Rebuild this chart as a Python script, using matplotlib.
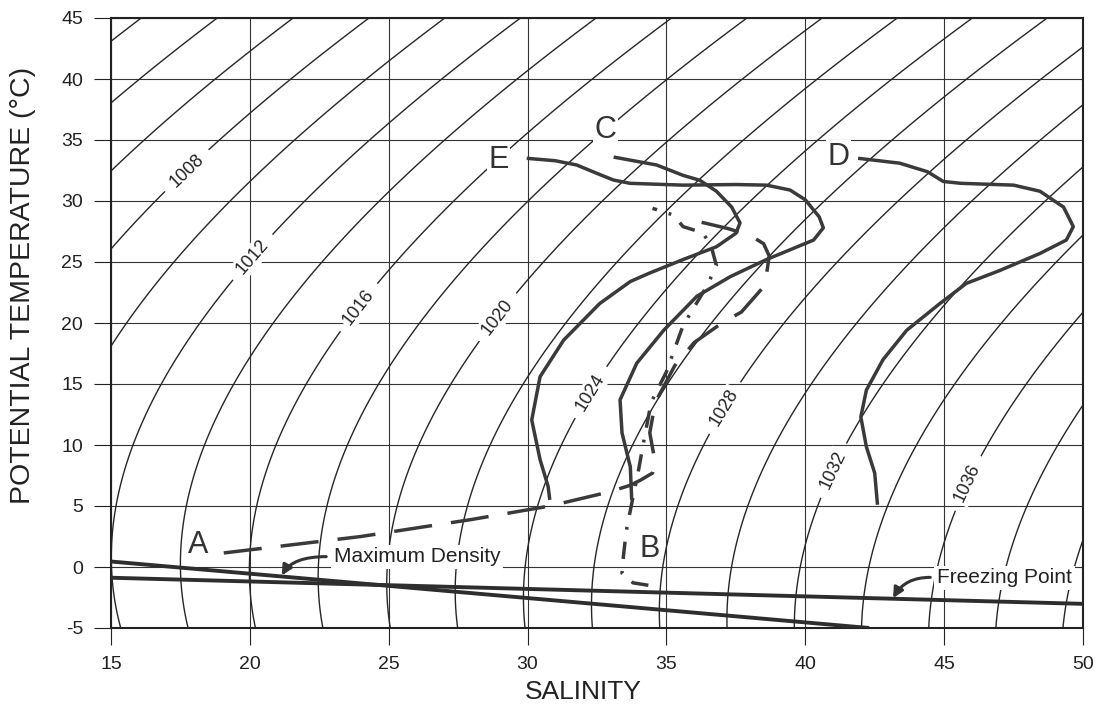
import numpy as np
import matplotlib
matplotlib.use("Agg")
import matplotlib.pyplot as plt

plt.rcParams['font.family'] = ['Liberation Sans', 'DejaVu Sans']
plt.rcParams['axes.unicode_minus'] = False

# ---------------- data ----------------
density_levels = list(range(1000, 1042, 2))
label_levels = [1008, 1012, 1016, 1020, 1024, 1028, 1032, 1036]
label_pos = [(17.6, 32.8), (20.1, 25.4), (23.8, 21.5), (29.2, 20.0),
             (32.5, 14.0), (37.2, 12.9), (41.2, 7.7), (46.0, 6.7)]

curve_E_S = [29.97, 31.0, 31.77, 32.49, 33.09, 33.69, 35.6, 37.5, 38.6, 39.45, 40.0,
             40.5, 40.65, 40.3, 39.45, 38.6, 37.3, 36.1, 34.9, 33.93, 33.33, 33.4, 33.7, 33.75]
curve_E_T = [33.5, 33.3, 32.95, 32.27, 31.72, 31.45, 31.3, 31.35, 31.3, 30.9, 30.1,
             28.7, 27.8, 26.8, 26.0, 25.2, 23.8, 22.2, 19.4, 16.7, 13.7, 11.0, 8.2, 5.5]

curve_C_S = [33.1, 34.65, 35.6, 36.2, 36.8, 37.35, 37.65, 37.5, 36.8, 35.6, 34.4, 33.7,
             32.6, 31.3, 30.45, 30.15, 30.45, 30.74, 30.8]
curve_C_T = [33.6, 32.95, 32.1, 31.7, 30.8, 29.5, 28.2, 27.35, 26.25, 25.2, 24.1, 23.4,
             21.6, 18.6, 15.6, 12.05, 8.8, 6.6, 5.5]

curve_D_S = [41.9, 43.4, 44.4, 44.97, 45.6, 47.5, 48.45, 49.3, 49.65, 49.4, 48.45, 47.0,
             45.8, 44.85, 43.65, 42.8, 42.2, 42.0, 42.2, 42.5, 42.6]
curve_D_T = [33.5, 33.1, 32.4, 31.6, 31.45, 31.3, 30.8, 29.5, 27.9, 26.8, 25.7, 24.3,
             23.25, 21.6, 19.4, 17.0, 14.5, 12.3, 9.85, 7.7, 5.1]

curve_A_S = [19.06, 24.0, 28.0, 30.8, 32.95, 33.7, 34.05, 34.5, 34.6, 34.4, 34.6, 35.3,
             36.0, 37.0, 37.7, 38.55, 38.7, 38.5, 38.0, 37.2, 36.0]
curve_A_T = [1.15, 2.5, 3.9, 5.0, 6.16, 6.7, 7.1, 7.7, 8.5, 11.0, 13.5, 16.5,
             18.4, 20.0, 20.9, 23.1, 25.5, 26.5, 27.2, 27.75, 28.4]

curve_B_S = [34.35, 33.8, 33.4, 33.45, 33.55, 33.75, 34.0, 34.2, 34.45, 35.0, 35.6,
             36.45, 36.8, 36.6, 36.3, 35.6, 35.25, 34.5]
curve_B_T = [-1.5, -1.3, -0.5, 0.85, 2.9, 5.2, 8.0, 10.5, 13.5, 16.0, 19.8,
             23.0, 24.7, 26.4, 27.4, 27.9, 28.85, 29.4]

maxdens_S = [15.0, 42.3]
maxdens_T = [0.45, -5.0]
freeze_S = [15.0, 50.0]
freeze_T = [-0.88, -3.02]

letters = ['E', 'C', 'D', 'A', 'B']
letter_S = [28.95, 32.79, 41.19, 18.13, 34.41]
letter_T = [33.36, 35.82, 33.63, 1.8, 1.45]

x_ticks = [15, 20, 25, 30, 35, 40, 45, 50]
y_ticks = [-5, 0, 5, 10, 15, 20, 25, 30, 35, 40, 45]


# ---------------- equation of state (UNESCO 1980, p = 0) ----------------
def density(S, T):
    rw = (999.842594 + 6.793952e-2 * T - 9.095290e-3 * T**2 + 1.001685e-4 * T**3
          - 1.120083e-6 * T**4 + 6.536332e-9 * T**5)
    a = 0.824493 - 4.0899e-3 * T + 7.6438e-5 * T**2 - 8.2467e-7 * T**3 + 5.3875e-9 * T**4
    b = -5.72466e-3 + 1.0227e-4 * T - 1.6546e-6 * T**2
    return rw + a * S + b * S**1.5 + 4.8314e-4 * S**2


fig = plt.figure(figsize=(11.02, 7.10), dpi=100)
ax = fig.add_axes([111 / 1102, 82 / 710, 972 / 1102, 610 / 710])

sg = np.linspace(15, 50, 400)
tg = np.linspace(-5, 45, 400)
SS, TT = np.meshgrid(sg, tg)
RR = density(SS, TT)

line_col = '#262626'
plain_levels = [lv for lv in density_levels if lv not in label_levels]
ax.contour(SS, TT, RR, levels=plain_levels, colors=line_col, linewidths=1.0, zorder=1)
cs = ax.contour(SS, TT, RR, levels=label_levels, colors=line_col, linewidths=1.0, zorder=1)
lbls = ax.clabel(cs, manual=label_pos, fmt='%d', fontsize=13,
                 inline=True, inline_spacing=10, colors='#222222')
for t in lbls:
    t.set_bbox(dict(facecolor='white', edgecolor='none', pad=1.5))
    t.set_zorder(3)

curve_col = '#3a3a3a'
ax.plot(curve_E_S, curve_E_T, color=curve_col, lw=2.5, zorder=4, solid_capstyle='butt')
ax.plot(curve_C_S, curve_C_T, color=curve_col, lw=2.5, zorder=4, solid_capstyle='butt')
ax.plot(curve_D_S, curve_D_T, color=curve_col, lw=2.5, zorder=4, solid_capstyle='butt')
ax.plot(curve_A_S, curve_A_T, color=curve_col, lw=2.5, zorder=4, dashes=(11, 5.5))
ax.plot(curve_B_S, curve_B_T, color=curve_col, lw=2.5, zorder=4, dashes=(5, 3.5, 0.8, 3.5))

ax.plot(maxdens_S, maxdens_T, color='#2e2e2e', lw=2.8, zorder=4, solid_capstyle='butt')
ax.plot(freeze_S, freeze_T, color='#2e2e2e', lw=2.8, zorder=4, solid_capstyle='butt')

for name, s, t in zip(letters, letter_S, letter_T):
    ax.text(s, t, name, fontsize=22, ha='center', va='center', color='#333333', zorder=5,
            bbox=dict(facecolor='white', edgecolor='none', pad=1.0))

ax.text(23.03, 0.82, 'Maximum Density', fontsize=15, ha='left', va='center', color='#222222',
        zorder=5, bbox=dict(facecolor='white', edgecolor='none', pad=2.0))
ax.annotate('', xy=(21.15, -0.7), xytext=(22.75, 0.85),
            arrowprops=dict(arrowstyle='-|>,head_length=0.6,head_width=0.3', color='#333333', lw=2.2,
                            connectionstyle='angle3,angleA=0,angleB=60', shrinkA=0, shrinkB=0),
            zorder=5)
ax.text(44.74, -0.9, 'Freezing Point', fontsize=15, ha='left', va='center', color='#222222',
        zorder=5, bbox=dict(facecolor='white', edgecolor='none', pad=2.0))
ax.annotate('', xy=(43.16, -2.55), xytext=(44.5, -0.85),
            arrowprops=dict(arrowstyle='-|>,head_length=0.6,head_width=0.3', color='#333333', lw=2.2,
                            connectionstyle='angle3,angleA=0,angleB=60', shrinkA=0, shrinkB=0),
            zorder=5)

ax.set_xlim(15, 50)
ax.set_ylim(-5, 45)
ax.set_xticks(x_ticks)
ax.set_yticks(y_ticks)
ax.set_axisbelow(True)
ax.grid(True, color='#333333', lw=0.8)
ax.tick_params(direction='out', length=12, width=0.8, pad=8, labelsize=14,
               colors='#222222')
for sp in ax.spines.values():
    sp.set_linewidth(1.5)
    sp.set_color('#222222')

ax.set_xlabel('SALINITY', fontsize=19, color='#222222')
ax.set_ylabel('POTENTIAL TEMPERATURE (°C)', fontsize=20.5, color='#222222')
ax.xaxis.set_label_coords(0.486, -0.086)
ax.yaxis.set_label_coords(-0.077, 0.562)

fig.savefig('out.png', dpi=100)
